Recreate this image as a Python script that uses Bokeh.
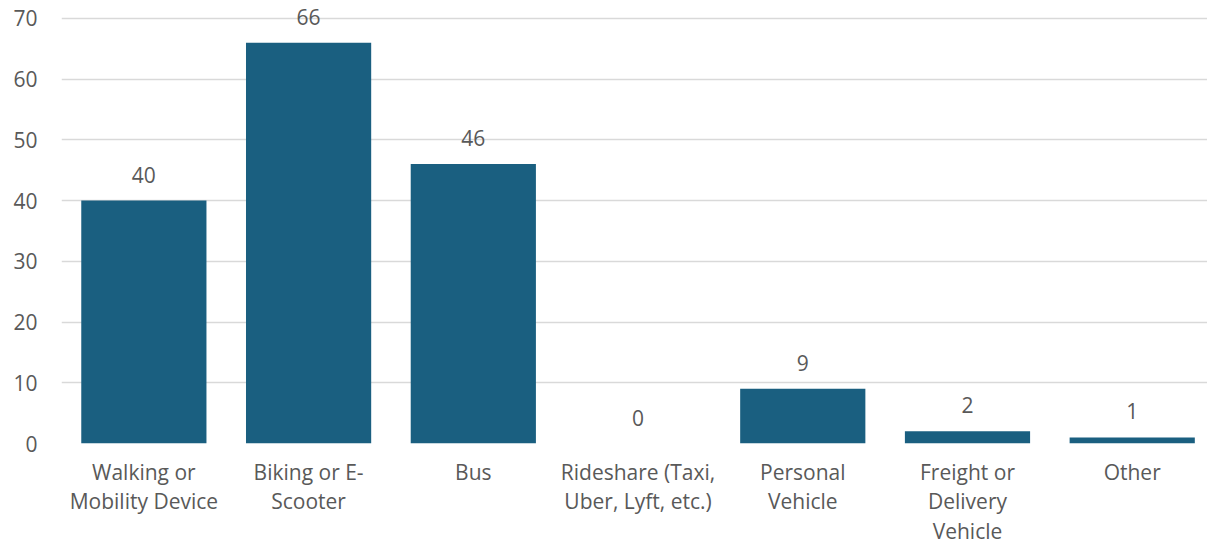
from bokeh.plotting import figure
from bokeh.models import Range1d, FixedTicker, ColumnDataSource
from bokeh.core.properties import value
from bokeh.embed import file_html
from bokeh.resources import INLINE

categories = ["Walking or\nMobility Device", "Biking or E-\nScooter", "Bus",
              "Rideshare (Taxi,\nUber, Lyft, etc.)", "Personal\nVehicle",
              "Freight or\nDelivery\nVehicle", "Other"]
values = [40, 66, 46, 0, 9, 2, 1]
y_ticks = [0, 10, 20, 30, 40, 50, 60, 70]

FONT = "Open Sans"
TXT = "#595959"
BAR = "#1A5F80"
FS = "21px"

xs = list(range(len(categories)))
src = ColumnDataSource(dict(x=xs, top=values, lab=[str(v) for v in values]))

p = figure(width=1207, height=548, output_backend="svg", toolbar_location=None,
           x_range=Range1d(-0.5, 6.457), y_range=Range1d(0, 72.94),
           min_border_left=61, min_border_right=0, min_border_top=0,
           min_border_bottom=100)
p.outline_line_color = None
p.background_fill_color = "white"

p.vbar(x="x", top="top", width=0.76, bottom=0, source=src,
       fill_color=BAR, line_color=None)
p.text(x="x", y="top", text="lab", source=src, text_align="center",
       text_baseline="middle", y_offset=-26, text_font_size=FS,
       text_color=TXT, text_font=value(FONT))

p.xgrid.visible = False
p.ygrid.ticker = FixedTicker(ticks=y_ticks)
p.ygrid.grid_line_color = "#D9D9D9"
p.ygrid.grid_line_width = 1.5

p.yaxis.ticker = FixedTicker(ticks=y_ticks)
p.yaxis.axis_line_color = None
p.yaxis.major_tick_line_color = None
p.yaxis.minor_tick_line_color = None
p.yaxis.major_label_standoff = 18
p.yaxis.major_label_text_font = FONT
p.yaxis.major_label_text_font_size = FS
p.yaxis.major_label_text_color = TXT

p.xaxis.ticker = FixedTicker(ticks=xs)
p.xaxis.major_label_overrides = {i: c for i, c in enumerate(categories)}
p.xaxis.axis_line_color = None
p.xaxis.major_tick_line_color = None
p.xaxis.minor_tick_line_color = None
p.xaxis.major_label_standoff = 8
p.xaxis.major_label_text_font = FONT
p.xaxis.major_label_text_font_size = FS
p.xaxis.major_label_text_color = TXT
p.xaxis.major_label_text_line_height = 1.07

open("out.html", "w").write(file_html(p, INLINE))
